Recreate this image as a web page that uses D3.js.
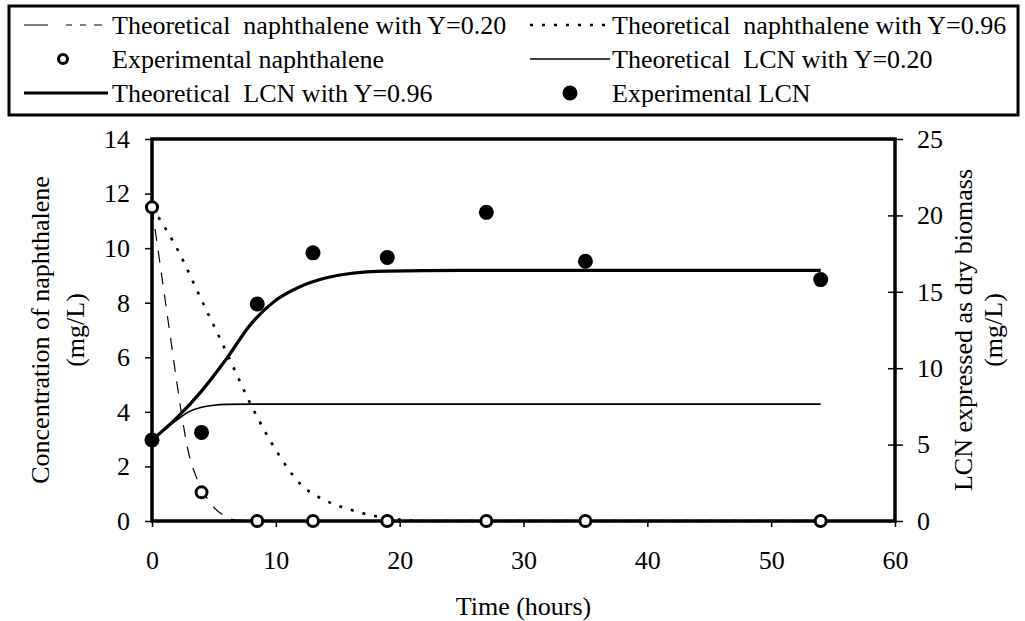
<!DOCTYPE html>
<html>
<head>
<meta charset="utf-8">
<script src="https://cdn.jsdelivr.net/npm/d3@7"></script>
<style>
  body { margin: 0; background: #fff; }
</style>
</head>
<body>
<div id="chart"></div>
<script>
// Experimental points (time in hours)
const timeExp = [0, 4, 8.5, 13, 19, 27, 35, 54];
const naphExp = [11.5, 1.05, 0, 0, 0, 0, 0, 0];          // mg/L, left axis
const lcnExp = [5.3, 5.8, 14.2, 17.55, 17.25, 20.2, 17.0, 15.8]; // mg/L, right axis

// Theoretical naphthalene (left axis)
const timeNaph020 = [0, 0.5, 1, 1.5, 2, 2.5, 3, 3.5, 4, 5, 6, 7, 54];
const naph020 = [11.5, 9.9, 8.3, 6.7, 5.1, 3.6, 2.4, 1.7, 1.2, 0.5, 0.15, 0.02, 0];
const timeNaph096 = [0, 2, 4, 6, 8, 10, 12, 14, 16, 18, 20, 22, 54];
const naph096 = [11.5, 10.0, 8.1, 6.2, 4.25, 2.6, 1.35, 0.75, 0.42, 0.18, 0.05, 0, 0];

// Theoretical LCN (right axis)
const timeLcn096 = [0, 2, 4, 6, 8, 10, 12, 14, 16, 19, 25, 54];
const lcn096 = [5.3, 6.75, 8.5, 10.6, 12.9, 14.45, 15.35, 15.9, 16.2, 16.35, 16.4, 16.4];
const timeLcn020 = [0, 1, 2, 3, 4, 5, 6, 8, 54];
const lcn020 = [5.3, 5.96, 6.6, 7.16, 7.45, 7.58, 7.63, 7.65, 7.65];

// Ticks
const xTicks = [0, 10, 20, 30, 40, 50, 60];
const yLeftTicks = [0, 2, 4, 6, 8, 10, 12, 14];
const yRightTicks = [0, 5, 10, 15, 20, 25];

const width = 1025, height = 621;
const plot = { left: 152, right: 895, top: 139, bottom: 521 };
const fontFamily = "'Liberation Serif', 'Times New Roman', serif";
const fontSize = "26px";

const svg = d3.select("#chart").append("svg")
    .attr("width", width)
    .attr("height", height)
    .attr("font-family", fontFamily)
    .attr("font-size", fontSize);

const x = d3.scaleLinear().domain([0, 60]).range([plot.left, plot.right]);
const yL = d3.scaleLinear().domain([0, 14]).range([plot.bottom, plot.top]);
const yR = d3.scaleLinear().domain([0, 25]).range([plot.bottom, plot.top]);

// --- ejes ---
const gx = svg.append("g")
    .attr("transform", `translate(0,${plot.bottom})`)
    .call(d3.axisBottom(x).tickValues(xTicks).tickSize(6).tickPadding(24));
const gl = svg.append("g")
    .attr("transform", `translate(${plot.left},0)`)
    .call(d3.axisLeft(yL).tickValues(yLeftTicks).tickSize(7).tickPadding(15));
const gr = svg.append("g")
    .attr("transform", `translate(${plot.right},0)`)
    .call(d3.axisRight(yR).tickValues(yRightTicks).tickSize(8).tickPadding(14));

[gx, gl, gr].forEach(g => {
    g.attr("font-family", fontFamily).attr("font-size", fontSize);
    g.select(".domain").remove();
    g.selectAll("line").attr("stroke", "#000").attr("stroke-width", 1.5);
    g.selectAll("text").attr("fill", "#000");
});
// los ticks derechos cruzan el eje
gr.selectAll("line").attr("x1", -7);

// marco del área de trazado
svg.append("rect")
    .attr("x", plot.left)
    .attr("y", plot.top)
    .attr("width", plot.right - plot.left)
    .attr("height", plot.bottom - plot.top)
    .attr("fill", "none")
    .attr("stroke", "#000")
    .attr("stroke-width", 3.5);

// títulos de ejes
svg.append("text")
    .attr("x", (plot.left + plot.right) / 2)
    .attr("y", 615)
    .attr("text-anchor", "middle")
    .text("Time (hours)");

const leftTitle = svg.append("text")
    .attr("transform", `translate(49,${(plot.top + plot.bottom) / 2}) rotate(-90)`)
    .attr("text-anchor", "middle");
leftTitle.append("tspan").attr("x", 0).attr("y", 0).text("Concentration of naphthalene");
leftTitle.append("tspan").attr("x", 0).attr("y", 35).text("(mg/L)");

const rightTitle = svg.append("text")
    .attr("transform", `translate(972,${(plot.top + plot.bottom) / 2}) rotate(-90)`)
    .attr("text-anchor", "middle");
rightTitle.append("tspan").attr("x", 0).attr("y", 0).text("LCN expressed as dry biomass");
rightTitle.append("tspan").attr("x", 0).attr("y", 30).text("(mg/L)");

// --- curvas teóricas ---
const lineL = d3.line().x(d => x(d[0])).y(d => yL(d[1])).curve(d3.curveMonotoneX);
const lineR = d3.line().x(d => x(d[0])).y(d => yR(d[1])).curve(d3.curveMonotoneX);

svg.append("path")
    .datum(d3.zip(timeLcn020, lcn020))
    .attr("d", lineR)
    .attr("fill", "none")
    .attr("stroke", "#000")
    .attr("stroke-width", 1.6);

svg.append("path")
    .datum(d3.zip(timeLcn096, lcn096))
    .attr("d", lineR)
    .attr("fill", "none")
    .attr("stroke", "#000")
    .attr("stroke-width", 3.2);

svg.append("path")
    .datum(d3.zip(timeNaph020, naph020))
    .attr("d", lineL)
    .attr("fill", "none")
    .attr("stroke", "#000")
    .attr("stroke-width", 1.2)
    .attr("stroke-dasharray", "12,10");

svg.append("path")
    .datum(d3.zip(timeNaph096, naph096))
    .attr("d", lineL)
    .attr("fill", "none")
    .attr("stroke", "#000")
    .attr("stroke-width", 2.6)
    .attr("stroke-dasharray", "3,9");

// --- puntos experimentales ---
svg.selectAll(".naph-exp")
    .data(d3.zip(timeExp, naphExp))
    .enter().append("circle")
    .attr("class", "naph-exp")
    .attr("cx", d => x(d[0]))
    .attr("cy", d => yL(d[1]))
    .attr("r", 5.5)
    .attr("fill", "#fff")
    .attr("stroke", "#000")
    .attr("stroke-width", 3);

svg.selectAll(".lcn-exp")
    .data(d3.zip(timeExp, lcnExp))
    .enter().append("circle")
    .attr("class", "lcn-exp")
    .attr("cx", d => x(d[0]))
    .attr("cy", d => yR(d[1]))
    .attr("r", 7.5)
    .attr("fill", "#000");

// --- leyenda ---
svg.append("rect")
    .attr("x", 9).attr("y", 6)
    .attr("width", 1009).attr("height", 109)
    .attr("fill", "none")
    .attr("stroke", "#000")
    .attr("stroke-width", 3);

const legendRows = [25, 59, 93];
const legendItems = [
    { col: 0, row: 0, label: "Theoretical  naphthalene with Y=0.20", type: "line", width: 1.2, dash: "24,18,6,8,6,8,8" },
    { col: 1, row: 0, label: "Theoretical  naphthalene with Y=0.96", type: "line", width: 2.6, dash: "3,9" },
    { col: 0, row: 1, label: "Experimental naphthalene", type: "open" },
    { col: 1, row: 1, label: "Theoretical  LCN with Y=0.20", type: "line", width: 1.6, dash: null },
    { col: 0, row: 2, label: "Theoretical  LCN with Y=0.96", type: "line", width: 3.2, dash: null },
    { col: 1, row: 2, label: "Experimental LCN", type: "filled" }
];
const colX = [{ s0: 24, s1: 108, text: 112 }, { s0: 530, s1: 610, text: 612 }];

legendItems.forEach(d => {
    const c = colX[d.col];
    const cy = legendRows[d.row];
    if (d.type === "line") {
        svg.append("line")
            .attr("x1", c.s0).attr("x2", c.s1)
            .attr("y1", cy).attr("y2", cy)
            .attr("stroke", "#000")
            .attr("stroke-width", d.width)
            .attr("stroke-dasharray", d.dash);
    } else if (d.type === "open") {
        svg.append("circle")
            .attr("cx", 63).attr("cy", cy).attr("r", 4.5)
            .attr("fill", "#fff").attr("stroke", "#000").attr("stroke-width", 3);
    } else {
        svg.append("circle")
            .attr("cx", 570).attr("cy", cy).attr("r", 7.5)
            .attr("fill", "#000");
    }
    svg.append("text")
        .attr("x", c.text)
        .attr("y", cy + 9)
        .style("white-space", "pre")
        .text(d.label);
});
</script>
</body>
</html>
